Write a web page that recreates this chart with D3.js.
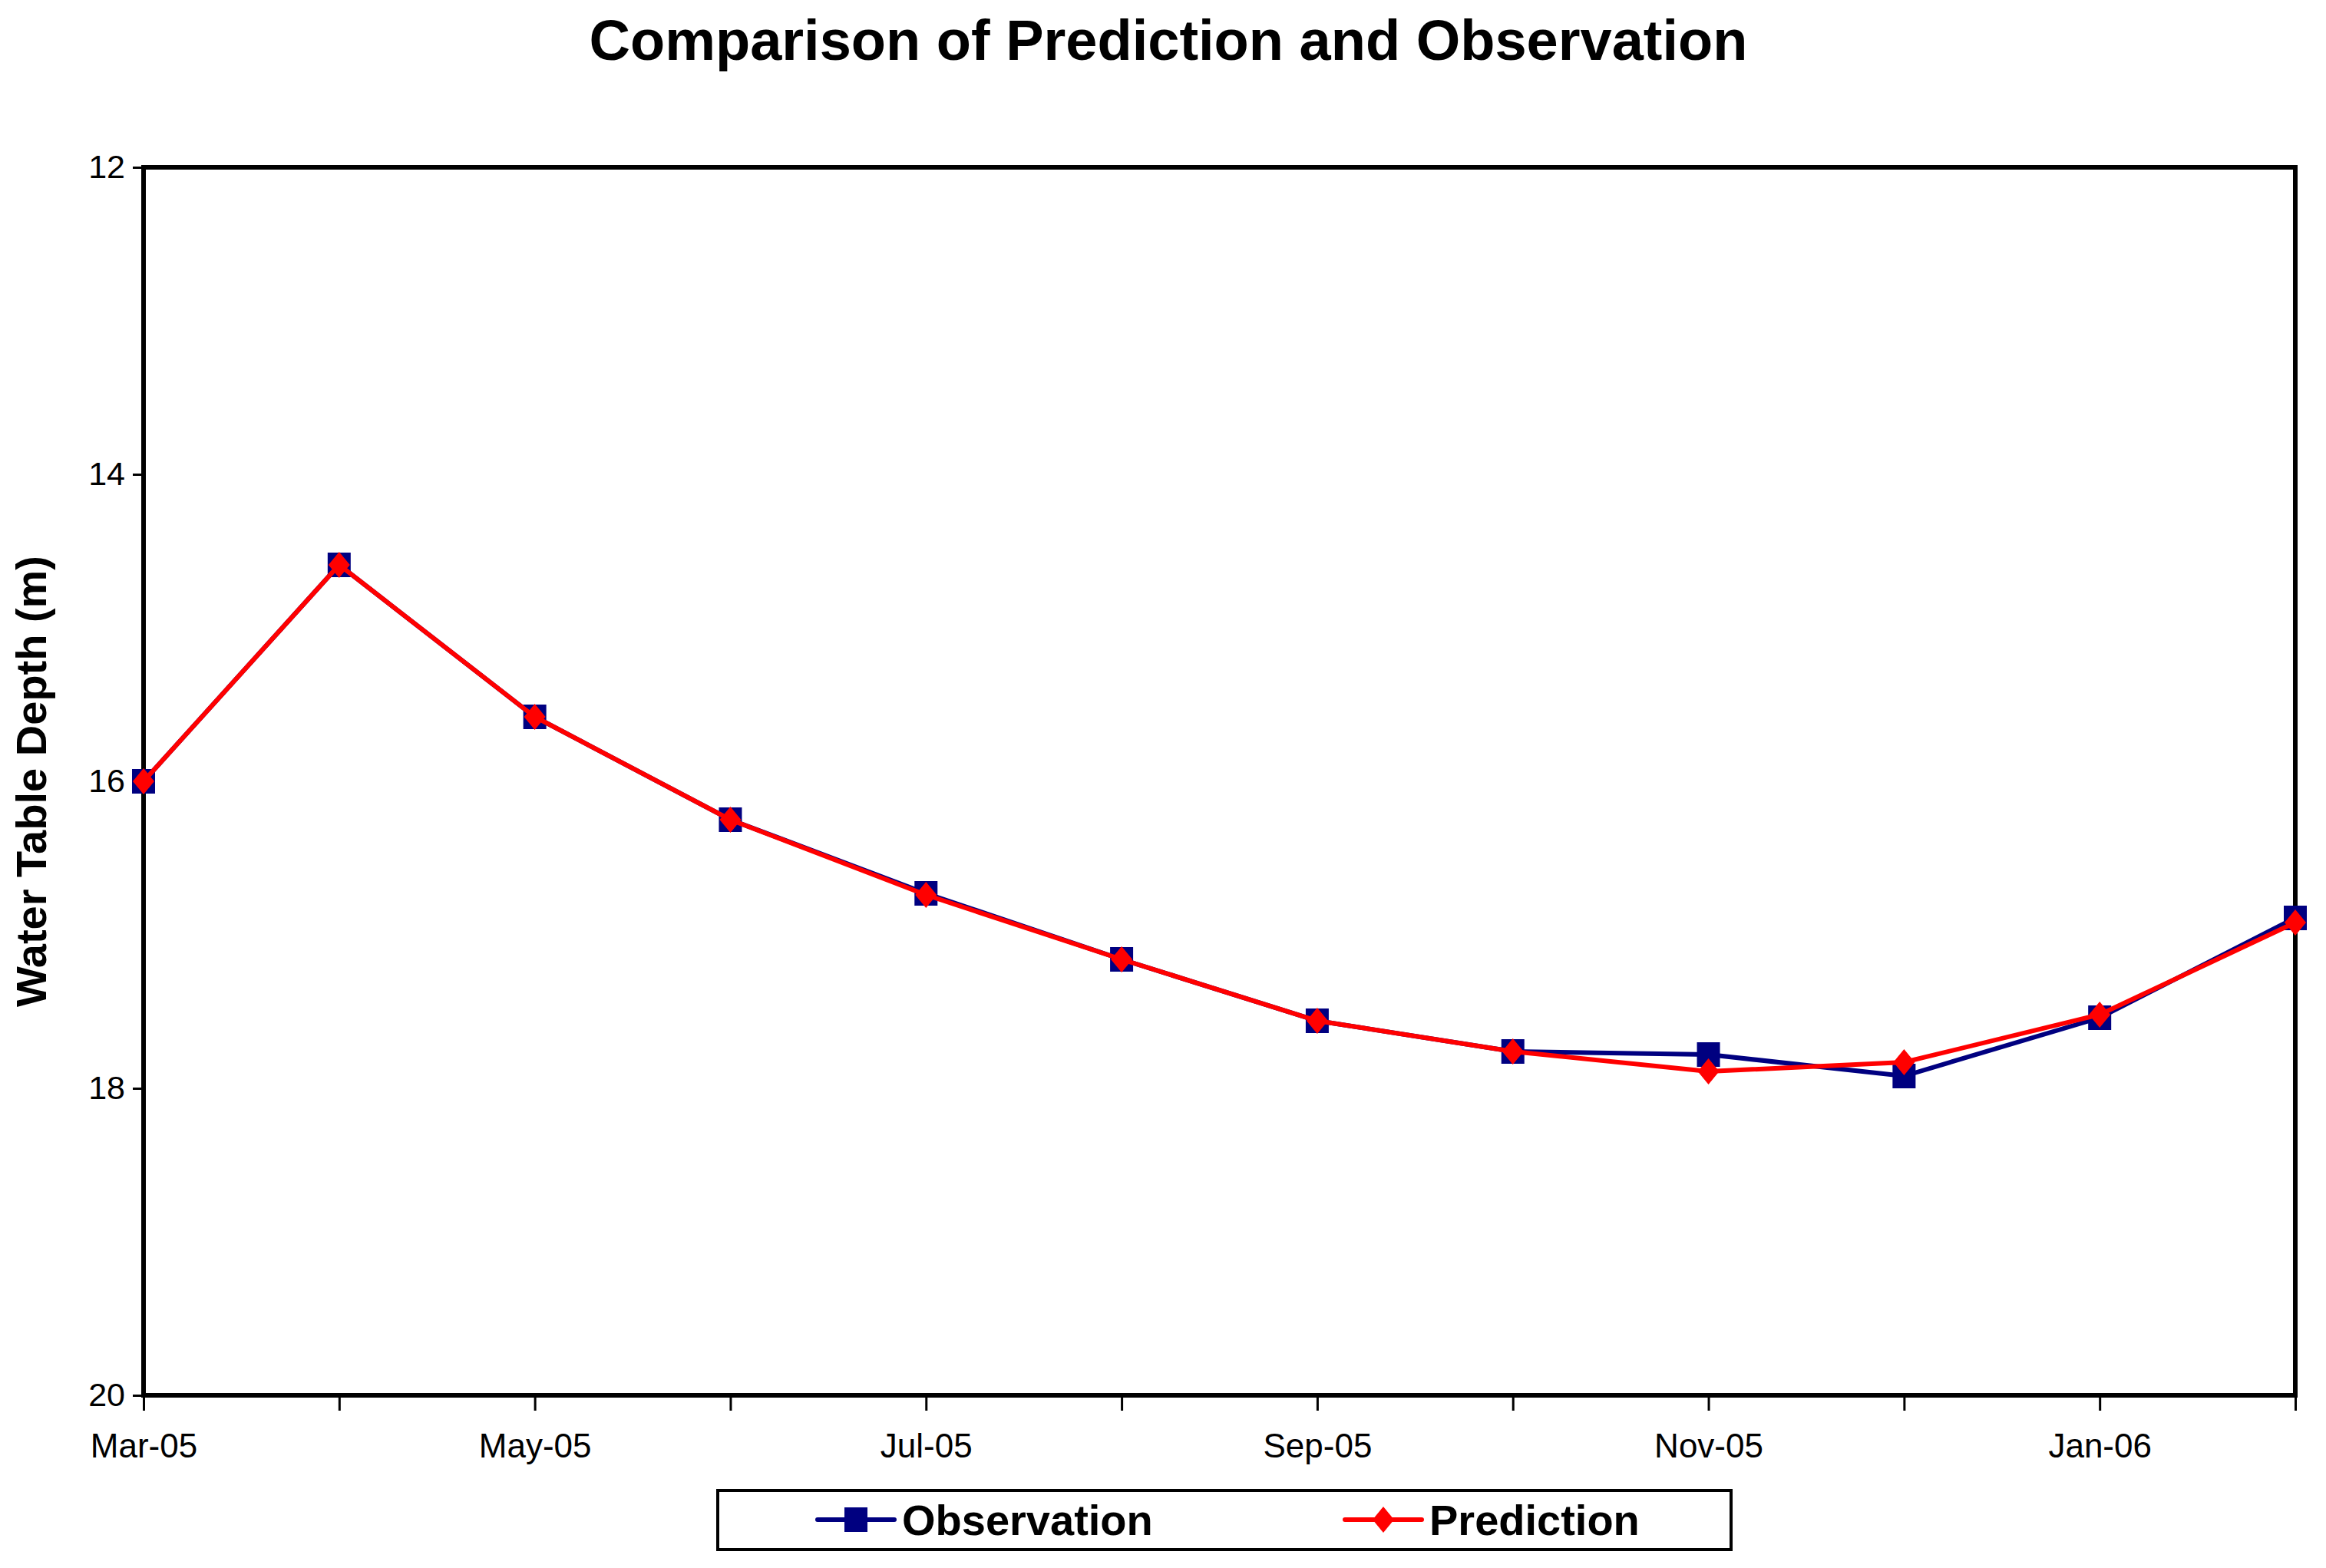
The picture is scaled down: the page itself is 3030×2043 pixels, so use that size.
<!DOCTYPE html>
<html>
<head>
<meta charset="utf-8">
<script src="https://cdn.jsdelivr.net/npm/d3@7"></script>
<style>
  body { margin: 0; background: #fff; }
  text { font-family: "Liberation Sans", Arial, sans-serif; fill: #000; }
</style>
</head>
<body>
<script>
// chart values
const months = ["Mar-05", "Apr-05", "May-05", "Jun-05", "Jul-05", "Aug-05",
  "Sep-05", "Oct-05", "Nov-05", "Dec-05", "Jan-06", "Feb-06"];
const observation = [16.0, 14.59, 15.58, 16.25, 16.73, 17.16, 17.56, 17.76, 17.78, 17.92, 17.54, 16.89];
const prediction = [16.0, 14.59, 15.58, 16.25, 16.74, 17.16, 17.56, 17.76, 17.89, 17.83, 17.52, 16.92];
const yTicks = [12, 14, 16, 18, 20];
const series = [
  { name: "Observation", values: observation, color: "#000080", marker: "square" },
  { name: "Prediction", values: prediction, color: "#ff0000", marker: "diamond" }
];

const width = 3030;
const height = 2043;
const margin = { top: 218, right: 40, bottom: 225, left: 187 };

const svg = d3
  .select("body")
  .append("svg")
  .attr("width", width)
  .attr("height", height);

const x = d3
  .scalePoint()
  .domain(months)
  .range([margin.left, width - margin.right]);

const y = d3
  .scaleLinear()
  .domain([12, 20])
  .range([margin.top, height - margin.bottom]);

// title
svg
  .append("text")
  .attr("x", 1522)
  .attr("y", 78)
  .attr("text-anchor", "middle")
  .attr("font-size", 74)
  .attr("font-weight", "bold")
  .text("Comparison of Prediction and Observation");

// y axis
const yAxis = svg
  .append("g")
  .attr("transform", `translate(${margin.left},0)`)
  .call(d3.axisLeft(y).tickValues(yTicks).tickSize(14).tickPadding(10));
yAxis.select(".domain").remove();
yAxis.selectAll(".tick line").attr("stroke", "#000").attr("stroke-width", 3);
yAxis.selectAll(".tick text").attr("font-size", 43).attr("font-family", null);

// x axis
const xAxis = svg
  .append("g")
  .attr("transform", `translate(0,${height - margin.bottom})`)
  .call(
    d3
      .axisBottom(x)
      .tickSize(20)
      .tickPadding(30)
      .tickFormat((d, i) => (i % 2 === 0 ? d : ""))
  );
xAxis.select(".domain").remove();
xAxis.selectAll(".tick line").attr("stroke", "#000").attr("stroke-width", 3);
xAxis.selectAll(".tick text").attr("font-size", 44).attr("font-family", null);

// plot frame
svg
  .append("rect")
  .attr("x", margin.left)
  .attr("y", margin.top)
  .attr("width", width - margin.left - margin.right)
  .attr("height", height - margin.top - margin.bottom)
  .attr("fill", "none")
  .attr("stroke", "#000")
  .attr("stroke-width", 6);

// y axis title
svg
  .append("text")
  .attr("transform", `translate(60,${(margin.top + height - margin.bottom) / 2}) rotate(-90)`)
  .attr("text-anchor", "middle")
  .attr("font-size", 56)
  .attr("font-weight", "bold")
  .text("Water Table Depth (m)");

const line = d3
  .line()
  .x((d, i) => x(months[i]))
  .y((d) => y(d));

function drawMarker(g, type, color) {
  if (type === "square") {
    g.append("rect")
      .attr("x", -15)
      .attr("y", -16)
      .attr("width", 30)
      .attr("height", 32)
      .attr("fill", color);
  } else {
    g.append("path")
      .attr("d", "M0,-17 L14,0 L0,17 L-14,0 Z")
      .attr("fill", color);
  }
}

series.forEach((s) => {
  svg
    .append("path")
    .datum(s.values)
    .attr("fill", "none")
    .attr("stroke", s.color)
    .attr("stroke-width", 6)
    .attr("d", line);

  svg
    .append("g")
    .selectAll("g")
    .data(s.values)
    .join("g")
    .attr("transform", (d, i) => `translate(${x(months[i])},${y(d)})`)
    .each(function () {
      drawMarker(d3.select(this), s.marker, s.color);
    });
});

// legend
const legend = svg.append("g");
legend
  .append("rect")
  .attr("x", 935)
  .attr("y", 1942)
  .attr("width", 1320)
  .attr("height", 77)
  .attr("fill", "#fff")
  .attr("stroke", "#000")
  .attr("stroke-width", 4);

const legendX = [1065, 1752];
series.forEach((s, i) => {
  const g = legend.append("g").attr("transform", `translate(${legendX[i]},1980)`);
  g.append("line")
    .attr("x1", 0)
    .attr("x2", 100)
    .attr("stroke", s.color)
    .attr("stroke-width", 6)
    .attr("stroke-linecap", "round");
  drawMarker(g.append("g").attr("transform", "translate(50,0)"), s.marker, s.color);
  g.append("text")
    .attr("x", 110)
    .attr("y", 20)
    .attr("font-size", 56)
    .attr("font-weight", "bold")
    .text(s.name);
});
</script>
</body>
</html>
